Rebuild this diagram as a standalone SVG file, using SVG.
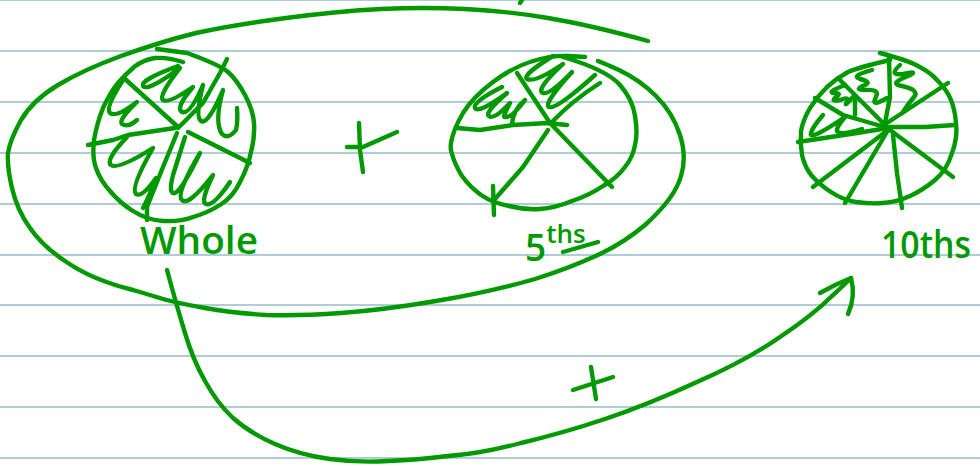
<svg xmlns="http://www.w3.org/2000/svg" width="980" height="466" viewBox="0 0 980 466">
<style>
.rule{stroke:#b0ccda;stroke-width:2;fill:none}
.ink{stroke:#009900;stroke-width:4.4;fill:none;stroke-linecap:round;stroke-linejoin:round}
.lbl{fill:#009900;stroke:none;font-family:"Open Sans","Liberation Sans",sans-serif;font-size:37px;font-weight:600}
</style>
<rect width="980" height="466" fill="#ffffff"/>
<g id="ruled-lines" class="rule">
<path d="M0 0H980M0 51H980M0 102H980M0 153H980M0 204H980M0 255H980M0 305H980M0 356H980M0 407H980M0 458H980"/>
</g>
<g id="connectors" class="ink">
<path id="group-loop" d="M648 41Q590 25 548 18Q507 11 465 9Q423 7 381 9Q340 11 286 18Q233 25 196 33Q160 42 121 56Q83 70 58 85Q33 100 21 120Q10 140 8 153Q7 167 12 188Q17 210 30 228Q43 247 68 263Q93 280 133 290Q150 295 163 299Q177 303 205 308Q233 313 266 315Q300 316 341 313Q383 310 436 301Q490 292 535 279Q570 268 600 254Q625 242 645 225Q675 198 681 176Q687 157 680 135Q673 113 656 96Q640 80 619 70Q608 65 598 61"/>
<path d="M520 3L522 0"/>
<path id="arrow" d="M167 270Q177 307 185 333Q193 360 205 381Q217 403 233 418Q250 433 275 444Q300 455 330 459Q360 463 388 461Q417 460 448 456Q480 454 521 443Q563 433 605 419Q647 405 697 382Q747 360 780 337Q813 315 832 296Q843 286 851 278"/>
<path d="M820 293Q836 284 851 278Q856 296 848 314"/>
</g>
<g id="whole" class="ink">
<path d="M157 49L187 53Q220 65 228 72Q237 80 245 95Q253 110 254 123Q255 137 251 152Q248 167 240 182Q233 197 220 205Q207 213 193 217Q180 222 163 221Q147 220 133 211Q120 203 110 191Q100 180 96 168Q92 157 94 140Q97 123 103 108Q110 93 117 84Q125 75 134 67Q143 60 155 58Q167 57 183 62"/>
<path d="M125 79L178 127"/>
<path d="M188 132L250 163"/>
<path d="M227 59L220 73L203 103L178 128"/>
<path d="M177 133L163 167L147 207L147 220"/>
<path d="M88 145L113 140L128 135L175 128"/>
<path d="M178 66Q140 80 143 86Q147 92 180 68Q158 96 163 100Q168 104 193 87Q175 108 182 112Q190 115 203 85Q195 117 201 121Q208 125 223 90Q214 122 222 134Q228 140 236 130Q238 122 237 108"/>
<path d="M123 80Q105 108 110 113Q116 118 137 102Q118 120 122 124Q128 128 137 120"/>
<path d="M127 137Q105 160 111 165Q118 170 153 148Q130 188 136 194Q142 198 156 178Q150 195 143 208"/>
<path d="M185 137L173 175Q168 195 175 193Q182 190 200 153Q175 195 182 200Q188 207 213 175Q200 202 206 204Q213 207 230 182"/>
<text class="lbl" x="140" y="254" textLength="118" lengthAdjust="spacingAndGlyphs">Whole</text>
</g>
<g id="fifths" class="ink">
<path d="M585 57L569 56Q553 55 533 61Q513 67 493 82Q473 97 463 113Q453 130 451 143Q450 150 452 154Q455 165 462 176Q470 187 481 195Q493 203 509 206Q525 210 540 209Q555 208 572 201Q590 195 603 186Q617 178 625 167Q633 157 635 145Q638 133 635 116Q633 100 620 85Q607 70 563 57"/>
<path d="M457 128L480 130L513 125L547 123L567 125"/>
<path d="M517 73L550 123L612 187"/>
<path d="M548 130L523 167L494 200M493 186L494 215"/>
<path d="M502 87Q472 102 475 108Q478 114 507 93Q484 113 489 116Q494 120 510 103Q502 118 505 117Q512 118 525 100M525 100Q513 110 512 124"/>
<path d="M553 56Q522 75 527 79Q535 83 563 64Q535 90 543 93Q550 95 572 72Q543 104 549 107Q556 110 595 75M600 83Q573 100 552 122"/>
<text class="lbl" x="525" y="261">5<tspan dy="-18" font-size="26">ths</tspan></text>
<path d="M563 252L598 242"/>
</g>
<g id="tenths" class="ink">
<path d="M880 53Q907 60 918 66Q930 72 938 81Q947 90 951 100Q955 110 956 123Q958 137 952 153Q947 170 935 180Q923 190 910 196Q897 202 883 203Q870 204 856 202Q843 200 831 192Q820 185 812 176Q805 168 802 155Q800 143 801 131Q803 120 810 108Q817 97 827 87Q837 78 848 72Q860 67 890 60"/>
<path d="M889 57L890 97L885 123"/>
<path d="M948 83L887 123"/>
<path d="M955 125L925 127L890 127"/>
<path d="M953 177L890 130"/>
<path d="M902 208L897 173L893 135"/>
<path d="M845 203L888 130"/>
<path d="M813 187L888 130"/>
<path d="M798 142L857 133L888 128"/>
<path d="M815 98L843 115L888 128"/>
<path d="M838 78L888 128"/>
<path d="M855 97L855 115"/>
<path d="M872 70Q850 76 860 79Q872 82 865 85Q852 90 866 90Q880 89 876 97Q870 108 887 98"/>
<path d="M845 85Q825 93 835 93Q842 93 836 97Q830 102 840 100Q850 96 847 102Q843 108 853 97"/>
<path d="M900 65Q888 76 903 74Q920 70 908 76Q888 84 902 86Q920 90 914 97Q908 104 903 112"/>
<path d="M823 115Q812 128 811 133Q808 142 845 117Q834 130 838 132Q842 135 862 129"/>
<text class="lbl" x="881" y="258" textLength="90" lengthAdjust="spacingAndGlyphs">10ths</text>
</g>
<g id="plus-1" class="ink"><path d="M347 147L363 147L397 132M359 123L360 150L363 172"/></g>
<g id="plus-2" class="ink"><path d="M573 390L613 377M591 367L596 399"/></g>
</svg>
